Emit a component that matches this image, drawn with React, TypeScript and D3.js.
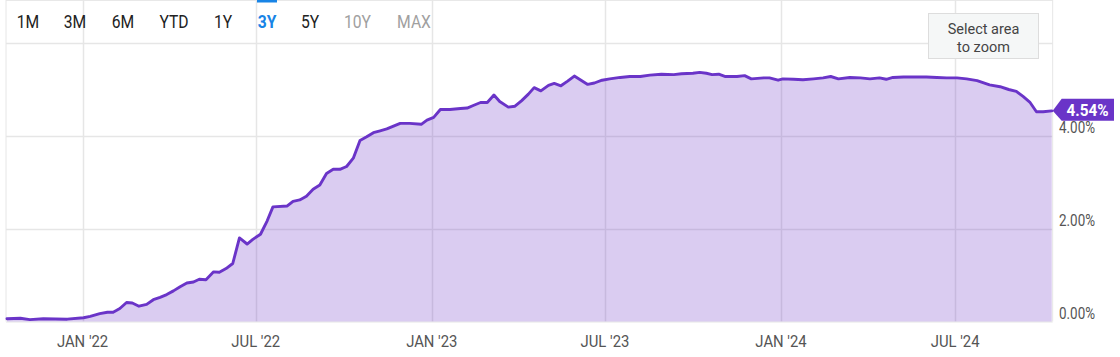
import React from "react";
import * as d3 from "d3";

const dates: string[] = [
  "2021-10-14","2021-10-28","2021-11-07","2021-11-21","2021-12-16","2022-01-02","2022-01-09","2022-01-19","2022-01-27","2022-02-02",
  "2022-02-09","2022-02-16","2022-02-22","2022-03-01","2022-03-09","2022-03-16","2022-03-23","2022-03-30","2022-04-06","2022-04-13",
  "2022-04-20","2022-04-27","2022-05-03","2022-05-10","2022-05-18","2022-05-24","2022-05-31","2022-06-07","2022-06-14","2022-06-22",
  "2022-06-28","2022-07-06","2022-07-13","2022-07-19","2022-08-03","2022-08-09","2022-08-16","2022-08-23","2022-08-30","2022-09-06",
  "2022-09-13","2022-09-20","2022-09-27","2022-10-04","2022-10-11","2022-10-18","2022-10-25","2022-11-01","2022-11-08","2022-11-15",
  "2022-11-22","2022-11-29","2022-12-09","2022-12-21","2022-12-27","2023-01-03","2023-01-10","2023-01-20","2023-01-31","2023-02-07",
  "2023-02-14","2023-02-21","2023-02-28","2023-03-07","2023-03-13","2023-03-22","2023-03-29","2023-04-05","2023-04-12","2023-04-18",
  "2023-04-25","2023-05-03","2023-05-09","2023-05-16","2023-05-23","2023-05-30","2023-06-06","2023-06-13","2023-06-20","2023-06-28",
  "2023-07-06","2023-07-17","2023-07-27","2023-08-07","2023-08-17","2023-08-29","2023-09-11","2023-09-19","2023-10-01","2023-10-08",
  "2023-10-15","2023-10-21","2023-10-28","2023-11-04","2023-11-16","2023-11-24","2023-12-01","2023-12-14","2023-12-20","2023-12-29",
  "2024-01-03","2024-01-14","2024-01-24","2024-02-04","2024-02-14","2024-02-22","2024-03-01","2024-03-13","2024-03-24","2024-04-03",
  "2024-04-13","2024-04-20","2024-04-27","2024-05-08","2024-05-22","2024-06-01","2024-06-12","2024-06-22","2024-07-03","2024-07-13",
  "2024-07-24","2024-08-06","2024-08-17","2024-08-26","2024-09-03","2024-09-10","2024-09-17","2024-09-24","2024-10-01","2024-10-10",
];

const rates: number[] = [
  0.06,0.07,0.04,0.06,0.05,0.08,0.11,0.17,0.20,0.20,
  0.28,0.41,0.40,0.33,0.37,0.47,0.52,0.58,0.66,0.75,
  0.83,0.85,0.91,0.90,1.07,1.06,1.14,1.25,1.80,1.67,
  1.77,1.88,2.17,2.47,2.49,2.59,2.62,2.70,2.85,2.94,
  3.19,3.28,3.28,3.34,3.52,3.90,3.98,4.07,4.11,4.15,
  4.21,4.27,4.27,4.25,4.34,4.40,4.57,4.57,4.59,4.60,
  4.66,4.72,4.72,4.88,4.74,4.62,4.64,4.76,4.90,5.04,
  4.97,5.09,5.13,5.08,5.18,5.29,5.20,5.11,5.14,5.20,
  5.23,5.26,5.28,5.28,5.31,5.33,5.32,5.34,5.35,5.37,
  5.35,5.32,5.33,5.28,5.28,5.30,5.23,5.25,5.25,5.20,
  5.23,5.22,5.21,5.23,5.25,5.28,5.23,5.26,5.25,5.23,
  5.25,5.22,5.26,5.27,5.27,5.27,5.26,5.25,5.25,5.23,
  5.19,5.10,5.06,5.00,4.96,4.85,4.73,4.52,4.52,4.54,
];

const xDomain: string[] = ["2021-10-13", "2024-10-11"];
const xTickDates: string[] = ["2022-01-01", "2022-07-01", "2023-01-01", "2023-07-01", "2024-01-01", "2024-07-01"];
const xTickLabels: string[] = ["JAN '22", "JUL '22", "JAN '23", "JUL '23", "JAN '24", "JUL '24"];
const yTicks: number[] = [2, 4, 6];
const yLabelTicks: number[] = [0, 2, 4];
const rangeButtons: string[] = ["1M", "3M", "6M", "YTD", "1Y", "3Y", "5Y", "10Y", "MAX"];
const activeButton = "3Y";
const disabledButtons: string[] = ["10Y", "MAX"];
const lastLabel = "4.54%";

const W = 1120;
const H = 357;
const LINE = "rgb(106,52,200)";

if (typeof document !== "undefined") {
  document.body.style.margin = "0";
}

const buttonCenters = [28, 75, 123, 174, 223, 267, 310, 357.5, 414];

function CondText(props: {
  x: number; y: number; sx?: number; anchor?: string; size: number; fill: string; weight?: number | string; children: React.ReactNode;
}) {
  const { x, y, sx = 0.87, anchor = "middle", size, fill, weight = 400, children } = props;
  return (
    <text
      transform={`translate(${x},${y}) scale(${sx},1)`}
      textAnchor={anchor}
      fontFamily="Roboto, 'Noto Sans', sans-serif"
      fontSize={size}
      fontWeight={weight}
      fill={fill}
    >
      {children}
    </text>
  );
}

export default function App() {
  const parse = d3.timeParse("%Y-%m-%d");
  const data = dates.map((d, i) => ({ date: parse(d) as Date, v: rates[i] }));

  const x = d3
    .scaleTime()
    .domain([parse(xDomain[0]) as Date, parse(xDomain[1]) as Date])
    .range([6, 1052.7]);
  const y = d3.scaleLinear().domain([0, 6]).range([321.5, 43.1]);

  const area = d3
    .area<{ date: Date; v: number }>()
    .x((d) => x(d.date))
    .y0(y(0))
    .y1((d) => y(d.v));
  const line = d3
    .line<{ date: Date; v: number }>()
    .x((d) => x(d.date))
    .y((d) => y(d.v));

  const last = data[data.length - 1];
  const tipX = x(x.domain()[1]);
  const tipY = y(last.v);

  const x0 = x.range()[0];
  const x1 = x.range()[1];

  return (
    <svg width={W} height={H} style={{ display: "block" }} xmlns="http://www.w3.org/2000/svg">
      <rect x={0} y={0} width={W} height={H} fill="#ffffff" />
      {/* frame */}
      <line x1={x0} x2={x1} y1={0.5} y2={0.5} stroke="#e8e8e8" />
      <line x1={x0} x2={x0} y1={0} y2={y(0)} stroke="#e6e6e6" />
      <line x1={x1} x2={x1} y1={0} y2={y(0)} stroke="#e6e6e6" />
      <line x1={x0} x2={x1} y1={y(0) + 0.5} y2={y(0) + 0.5} stroke="#e6e6e6" />
      {/* grid */}
      {yTicks.map((t) => (
        <line key={"gy" + t} x1={x0} x2={x1} y1={Math.round(y(t)) + 0.5} y2={Math.round(y(t)) + 0.5} stroke="#e6e6e6" strokeWidth={1.5} />
      ))}
      {xTickDates.map((d) => {
        const px = Math.round(x(parse(d) as Date)) + 0.5;
        return <line key={"gx" + d} x1={px} x2={px} y1={0} y2={y(0)} stroke="#e6e6e6" strokeWidth={1.5} />;
      })}
      {/* area + line */}
      <path d={area(data) || ""} fill={LINE} fillOpacity={0.25} />
      <path d={line(data) || ""} fill="none" stroke={LINE} strokeWidth={2.9} strokeLinejoin="round" strokeLinecap="round" />

      {/* x labels */}
      {xTickDates.map((d, i) => (
        <CondText key={"xl" + d} x={x(parse(d) as Date)} y={347} size={16.5} fill="#555555" sx={0.9}>
          {xTickLabels[i]}
        </CondText>
      ))}

      {/* y labels */}
      {yLabelTicks.map((t) => (
        <CondText key={"yl" + t} x={1059} y={y(t) - 3} size={16} fill="#555555" anchor="start" sx={0.84}>
          {t.toFixed(2) + "%"}
        </CondText>
      ))}

      {/* range buttons */}
      {rangeButtons.map((b, i) => {
        const active = b === activeButton;
        const disabled = disabledButtons.includes(b);
        return (
          <CondText
            key={"b" + b}
            x={buttonCenters[i]}
            y={28}
            size={18}
            sx={0.87}
            weight={active ? 700 : 400}
            fill={active ? "rgb(24,132,230)" : disabled ? "#a0a0a0" : "#222222"}
          >
            {b}
          </CondText>
        );
      })}
      <rect x={buttonCenters[rangeButtons.indexOf(activeButton)] - 10} y={0} width={20} height={2.5} fill="rgb(24,132,230)" />

      {/* select area box */}
      <rect x={928.5} y={13.5} width={110} height={45} fill="#f5f7f7" stroke="#dddddd" />
      <text x={983.5} y={34} textAnchor="middle" fontFamily="Roboto, sans-serif" fontSize={14.5} fill="#444444">
        Select area
      </text>
      <text x={983.5} y={52} textAnchor="middle" fontFamily="Roboto, sans-serif" fontSize={14.5} fill="#444444">
        to zoom
      </text>

      {/* last value flag */}
      <path
        d={`M${tipX},${tipY} L${tipX + 9},${tipY - 12} L1114,${tipY - 12} L1114,${tipY + 10} L${tipX + 9},${tipY + 10} Z`}
        fill={LINE}
      />
      <CondText x={1087.5} y={tipY + 5.5} size={17} fill="#ffffff" weight={700} sx={0.9}>
        {lastLabel}
      </CondText>
    </svg>
  );
}
